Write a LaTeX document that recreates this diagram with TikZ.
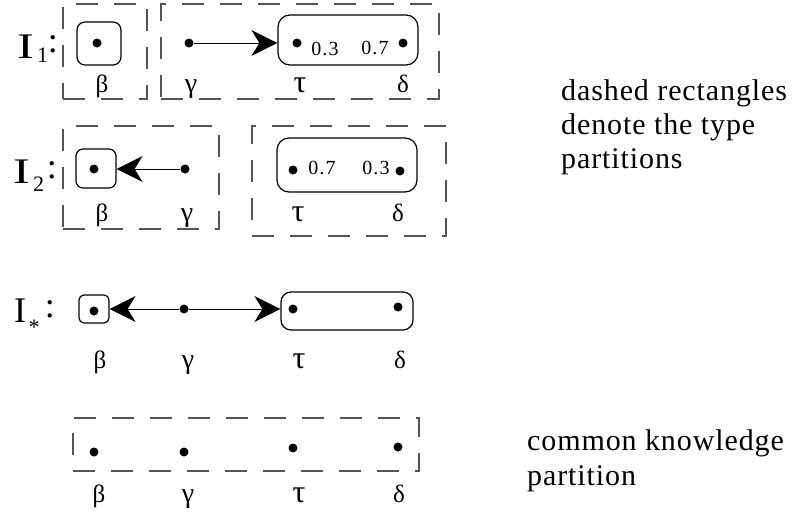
\documentclass[tikz,border=0pt]{standalone}
\usepackage{fontspec}
\setmainfont{Liberation Serif}
\newfontfamily\txtfont[LetterSpace=3]{Liberation Serif}
\newfontfamily\numfont[LetterSpace=6]{Liberation Serif}
\usetikzlibrary{arrows.meta}
\definecolor{dashgray}{RGB}{85,85,85}
\tikzset{
  dbox/.style={draw=dashgray, line width=1.1pt, dash pattern=on 22pt off 16pt, inner sep=0pt},
  rbox/.style={draw, line width=1.2pt, inner sep=0pt},
  pt/.style={circle, fill=black, inner sep=0pt, minimum size=9pt},
  arr/.style={line width=1pt, -{Stealth[length=26pt,width=26pt,inset=8pt]}},
  glab/.style={anchor=base, inner sep=0pt, font=\fontsize{25}{28}\selectfont},
  ylab/.style={anchor=base, inner sep=0pt, font=\fontsize{28}{32}\selectfont},
  tlab/.style={anchor=base, inner sep=0pt, font=\fontsize{32}{36}\selectfont},
  num/.style={anchor=base, inner sep=0pt, font=\numfont\fontsize{20}{24}\selectfont},
  big/.style={anchor=base west, inner sep=0pt, font=\fontsize{36}{40}\selectfont},
  sub/.style={anchor=base west, inner sep=0pt, font=\fontsize{22}{26}\selectfont},
  note/.style={anchor=base west, inner sep=0pt, font=\txtfont\fontsize{30}{34}\selectfont}
}
\begin{document}
\begin{tikzpicture}[x=1pt,y=-1pt]
\useasboundingbox (0,0) rectangle (795,522);

% ---------- Row I1 ----------
\node[big] (I1) at (17,58) {\scalebox{1.4}[1]{I}};
\node[sub] (I1s) at (37,62) {1};
\node[big, anchor=base] (I1c) at (53,52) {:};
\node[dbox, minimum width=84pt, minimum height=95pt] (P11) at (105,51.5) {};
\node[dbox, minimum width=278pt, minimum height=95pt] (P12) at (300,51.5) {};
\node[rbox, rounded corners=8pt, minimum width=44pt, minimum height=43pt] (B1) at (99,43.5) {};
\node[rbox, rounded corners=12pt, minimum width=140pt, minimum height=50pt] (T1) at (348,40) {};
\node[pt] (b1) at (97,43) {};
\node[pt] (g1) at (189,43) {};
\node[pt] (t1) at (297,43) {};
\node[pt] (d1) at (403,43) {};
\node[num] (n13) at (325,55) {0.3};
\node[num] (n17) at (375,54) {0.7};
\draw[arr] (g1) -- (g1 -| T1.west);
\node[glab] (lb1) at (102,92) {β};
\node[ylab] (lg1) at (191,92) {γ};
\node[tlab] (lt1) at (300,92) {τ};
\node[glab] (ld1) at (403,92) {δ};

% ---------- Row I2 ----------
\node[big] (I2) at (13,183) {\scalebox{1.4}[1]{I}};
\node[sub] (I2s) at (33,191) {2};
\node[big, anchor=base] (I2c) at (52,178) {:};
\node[dbox, minimum width=156pt, minimum height=103pt] (P21) at (141,177.5) {};
\node[dbox, minimum width=194pt, minimum height=110pt] (P22) at (349,181) {};
\node[rbox, rounded corners=7pt, minimum width=40pt, minimum height=39pt] (B2) at (96,168.5) {};
\node[rbox, rounded corners=12pt, minimum width=140pt, minimum height=54pt] (T2) at (347,165) {};
\node[pt] (b2) at (94,169) {};
\node[pt] (g2) at (185,169) {};
\node[pt] (t2) at (293,170) {};
\node[pt] (d2) at (400,171) {};
\node[num] (n27) at (322,174) {0.7};
\node[num] (n23) at (376,174) {0.3};
\draw[arr] (g2) -- (g2 -| B2.east);
\node[glab] (lb2) at (102,221) {β};
\node[ylab] (lg2) at (187,221) {γ};
\node[tlab] (lt2) at (298,221) {τ};
\node[glab] (ld2) at (398,221) {δ};

% ---------- Row I* ----------
\node[big] (I3) at (14,322) {I};
\node[sub, anchor=center] (I3s) at (34,327) {*};
\node[big, anchor=base] (I3c) at (50,317) {:};
\node[rbox, rounded corners=5pt, minimum width=30pt, minimum height=28pt] (B3) at (94,309) {};
\node[rbox, rounded corners=10pt, minimum width=132pt, minimum height=38pt] (T3) at (347,311) {};
\node[pt] (b3) at (94,311) {};
\node[pt] (g3) at (184,309) {};
\node[pt] (t3) at (293,309) {};
\node[pt] (d3) at (398,307) {};
\draw[arr] (g3) -- (g3 -| B3.east);
\draw[arr] (g3) -- (g3 -| T3.west);
\node[glab] (lb3) at (100,368) {β};
\node[ylab] (lg3) at (188,368) {γ};
\node[tlab] (lt3) at (299,368) {τ};
\node[glab] (ld3) at (400,368) {δ};

% ---------- Common knowledge ----------
\node[dbox, minimum width=346pt, minimum height=53pt] (P4) at (246,444.5) {};
\node[pt] (b4) at (94,452) {};
\node[pt] (g4) at (184,452) {};
\node[pt] (t4) at (293,448) {};
\node[pt] (d4) at (398,447) {};
\node[glab] (lb4) at (99,502) {β};
\node[ylab] (lg4) at (188,502) {γ};
\node[tlab] (lt4) at (299,502) {τ};
\node[glab] (ld4) at (399,502) {δ};

% ---------- Notes ----------
\node[note] (n1a) at (561,100) {dashed rectangles};
\node[note] (n1b) at (561,134) {denote the type};
\node[note] (n1c) at (561,168) {partitions};
\node[note] (n2a) at (527,450) {common knowledge};
\node[note] (n2b) at (527,485) {partition};
\end{tikzpicture}
\end{document}
